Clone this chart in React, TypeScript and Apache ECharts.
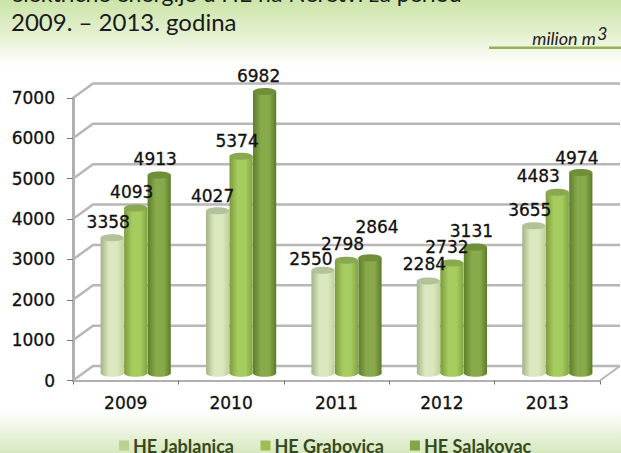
import React, { useEffect, useRef } from "react";
import * as echarts from "echarts";

const years = ["2009", "2010", "2011", "2012", "2013"];
const seriesNames = ["HE Jablanica", "HE Grabovica", "HE Salakovac"];
const jablanica = [3358, 4027, 2550, 2284, 3655];
const grabovica = [4093, 5374, 2798, 2732, 4483];
const salakovac = [4913, 6982, 2864, 3131, 4974];
const wallTicks = [0, 1000, 2000, 3000, 4000, 5000, 6000, 7000];
const titleLines = ["električne energije u HE na Neretvi za period", "2009. – 2013. godina"];

// Hand-placed label nudges (dx, dy from the default spot above a cylinder).
const nudges: number[][][] = [
  [[0, 0], [-1, 1], [-8, 5], [0, -1], [0, 0]],
  [[0, 0], [0, 1], [0, 0], [-1, 0], [-15, 0]],
  [[0, 0], [-2, 1], [11, -15], [0, 0], [0, 1]],
];

const shades = [
  { flat: "#b9d28f", edge: "#a3b486", mid: "#dbe8bf", right: "#c0d19c", cap: "#b3c298" },
  { flat: "#9cbf4f", edge: "#7d9c3e", mid: "#a6cb5e", right: "#82a443", cap: "#8aa850" },
  { flat: "#84a543", edge: "#5f7d2b", mid: "#89aa4b", right: "#5c7a2a", cap: "#6f8f38" },
];

const DEPTH_X = 20;
const DEPTH_Y = -14.5;
const LABEL_FONT = "'DejaVu Sans', sans-serif";

// One cylinder plus its value label, standing halfway into the floor depth.
function cylinder(seriesIndex: number) {
  return (params: any, api: any) => {
    const cat = api.value(0);
    const value = api.value(1);
    const top = api.coord([cat, value]);
    const base = api.coord([cat, 0]);
    const band = api.size([1, 0])[0];
    const w = band * 0.22;
    const cx = top[0] + DEPTH_X / 2 + (seriesIndex - 1) * band * 0.223;
    const topY = top[1] + DEPTH_Y / 2;
    const baseY = base[1] + DEPTH_Y / 2;
    const s = shades[seriesIndex];
    const ry = 3.5;
    const body = new echarts.graphic.LinearGradient(0, 0, 1, 0, [
      { offset: 0, color: s.edge },
      { offset: 0.35, color: s.mid },
      { offset: 0.7, color: s.mid },
      { offset: 1, color: s.right },
    ]);
    const [ndx, ndy] = nudges[seriesIndex][cat];
    return {
      type: "group",
      children: [
        { type: "ellipse", shape: { cx, cy: baseY, rx: w / 2, ry }, style: { fill: body } },
        { type: "rect", shape: { x: cx - w / 2, y: topY, width: w, height: baseY - topY }, style: { fill: body } },
        { type: "ellipse", shape: { cx, cy: topY, rx: w / 2, ry }, style: { fill: s.cap } },
        {
          type: "text",
          z2: 50,
          x: cx - 4 + ndx,
          y: topY - 16 + ndy,
          style: {
            text: String(value),
            fill: "#111",
            font: `17px ${LABEL_FONT}`,
            align: "center",
            verticalAlign: "middle",
            stroke: "#111",
            lineWidth: 0.3,
          },
        },
      ],
    };
  };
}

// Side-wall and back-wall rule for one tick value.
function wallRule(params: any, api: any) {
  const front = api.coord([0, api.value(0)]);
  const x0 = params.coordSys.x;
  const x1 = x0 + params.coordSys.width;
  const y = front[1];
  return {
    type: "polyline",
    silent: true,
    shape: { points: [[x0, y], [x0 + DEPTH_X, y + DEPTH_Y], [x1 + DEPTH_X, y + DEPTH_Y]] },
    style: { fill: "none", stroke: "#b7b7b7", lineWidth: 2.5 },
  };
}

// Right-hand edge of the floor.
function floorEdge(params: any, api: any) {
  const y = api.coord([0, 0])[1];
  const x1 = params.coordSys.x + params.coordSys.width;
  return {
    type: "line",
    silent: true,
    shape: { x1, y1: y, x2: x1 + DEPTH_X, y2: y + DEPTH_Y },
    style: { stroke: "#b7b7b7", lineWidth: 2 },
  };
}

export default function App() {
  const ref = useRef<HTMLDivElement>(null);
  useEffect(() => {
    const chart = echarts.init(ref.current!, null, { renderer: "svg" });
    const columns = [jablanica, grabovica, salakovac];
    chart.setOption({
      animation: false,
      backgroundColor: new echarts.graphic.LinearGradient(0, 0, 0, 1, [
        { offset: 0, color: "#cbe4a8" },
        { offset: 0.075, color: "#e4f0d0" },
        { offset: 0.135, color: "#fdfdf8" },
        { offset: 0.15, color: "#ffffff" },
        { offset: 0.905, color: "#ffffff" },
        { offset: 1, color: "#d6e8bf" },
      ]),
      grid: { left: 73, right: 21, top: 98, bottom: 72.5, containLabel: false },
      xAxis: {
        type: "category",
        data: years,
        axisLine: { show: true, lineStyle: { color: "#b0b0b0", width: 2 } },
        axisTick: { show: true, length: 4, lineStyle: { color: "#777", width: 1 } },
        axisLabel: {
          color: "#111",
          fontFamily: LABEL_FONT,
          fontSize: 17,
          margin: 14,
          textBorderColor: "#111",
          textBorderWidth: 0.3,
        },
      },
      yAxis: {
        type: "value",
        min: 0,
        max: 7000,
        interval: 1000,
        splitLine: { show: false },
        axisLine: { show: true, lineStyle: { color: "#b0b0b0", width: 3 } },
        axisTick: { show: true, length: 6, lineStyle: { color: "#777", width: 1 } },
        axisLabel: {
          color: "#111",
          fontFamily: LABEL_FONT,
          fontSize: 17,
          margin: 18,
          formatter: (v: number) => String(v),
          textBorderColor: "#111",
          textBorderWidth: 0.3,
        },
      },
      legend: {
        left: 119,
        top: 436.5,
        itemWidth: 10,
        itemHeight: 10,
        itemGap: 26,
        icon: "rect",
        data: seriesNames,
        padding: 0,
        textStyle: {
          color: "#36481c",
          fontFamily: "Lato, sans-serif",
          fontWeight: "bold",
          fontSize: 18,
          lineHeight: 15,
          padding: [0, 0, 0, -1],
        },
      },
      graphic: [
        {
          type: "text",
          x: 11,
          y: 4,
          style: { text: titleLines[0], fill: "#1a1a1a", font: "23px Lato, sans-serif", verticalAlign: "bottom" },
        },
        {
          type: "text",
          x: 11,
          y: 33,
          style: { text: titleLines[1], fill: "#1a1a1a", font: "24px Lato, sans-serif", verticalAlign: "bottom" },
        },
        {
          type: "text",
          x: 596,
          y: 47,
          style: { text: "milion m", fill: "#222", font: "italic 18px Lato, sans-serif", align: "right", verticalAlign: "bottom" },
        },
        {
          type: "text",
          x: 597,
          y: 42,
          style: { text: "3", fill: "#222", font: "italic 18px Lato, sans-serif", align: "left", verticalAlign: "bottom" },
        },
        { type: "rect", shape: { x: 489, y: 46.5, width: 132, height: 2.5 }, style: { fill: "#93b255" } },
      ],
      series: [
        {
          type: "custom",
          name: "wall",
          renderItem: wallRule,
          data: wallTicks.map((t) => [t]),
          encode: { y: 0 },
          clip: false,
          silent: true,
          z: 1,
        },
        {
          type: "custom",
          name: "floor",
          renderItem: floorEdge,
          data: [[0]],
          encode: { y: 0 },
          clip: false,
          silent: true,
          z: 1,
        },
        ...seriesNames.map((name, i) => ({
          type: "custom",
          name,
          renderItem: cylinder(i),
          data: columns[i].map((v, c) => [c, v]),
          encode: { x: 0, y: 1 },
          itemStyle: { color: shades[i].flat },
          clip: false,
          z: 3,
        })),
      ],
    });
    return () => chart.dispose();
  }, []);
  return <div ref={ref} style={{ position: "absolute", left: 0, top: 0, width: 621, height: 453 }} />;
}
